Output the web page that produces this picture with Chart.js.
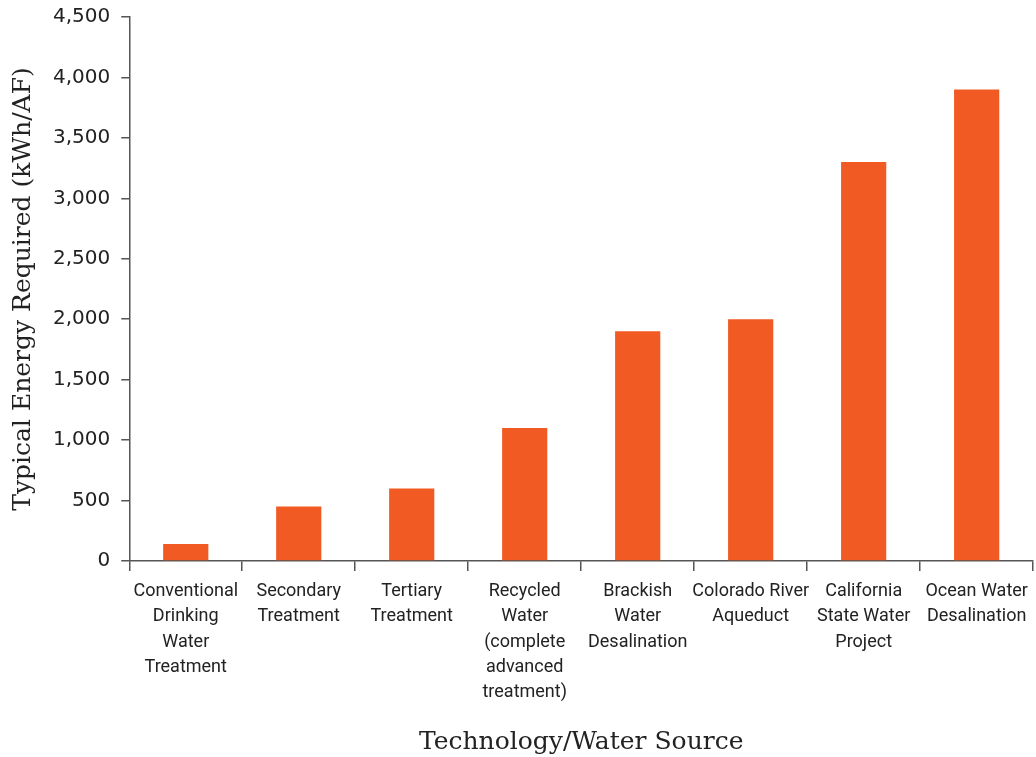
<!DOCTYPE html>
<html>
<head>
<meta charset="utf-8">
<script src="https://cdn.jsdelivr.net/npm/chart.js@4"></script>
<style>
  html, body { margin: 0; padding: 0; background: #fff; }
  #wrap { width: 1036px; height: 757px; }
</style>
</head>
<body>
<div id="wrap"><canvas id="myChart" width="1036" height="757"></canvas></div>
<script>
let categories = [
    ["Conventional", "Drinking", "Water", "Treatment"],
    ["Secondary", "Treatment"],
    ["Tertiary", "Treatment"],
    ["Recycled", "Water", "(complete", "advanced", "treatment)"],
    ["Brackish", "Water", "Desalination"],
    ["Colorado River", "Aqueduct"],
    ["California", "State Water", "Project"],
    ["Ocean Water", "Desalination"]
];
let energyValues = [140, 450, 600, 1100, 1900, 2000, 3300, 3900];
let yTicks = [0, 500, 1000, 1500, 2000, 2500, 3000, 3500, 4000, 4500];

let axisColor = "#555555";
let textColor = "#222222";

let energyChart = new Chart("myChart", {
    type: "bar",
    data: {
        labels: categories,
        datasets: [{
            backgroundColor: "#f15a22",
            data: energyValues,
            barPercentage: 0.4,
            categoryPercentage: 1.0
        }]
    },
    options: {
        responsive: false,
        animation: false,
        layout: { padding: { top: 17, right: 1, left: 8, bottom: 0 } },
        plugins: {
            legend: { display: false },
            tooltip: { enabled: false }
        },
        scales: {
            x: {
                grid: {
                    display: true,
                    drawOnChartArea: false,
                    tickLength: 10,
                    color: axisColor,
                    lineWidth: 1.5
                },
                border: { display: true, color: axisColor, width: 1.5 },
                ticks: {
                    color: textColor,
                    maxRotation: 0,
                    autoSkip: false,
                    padding: 8,
                    font: { family: "'Roboto', sans-serif", size: 18, lineHeight: 1.4 }
                },
                title: {
                    display: true,
                    text: "Technology/Water Source",
                    color: textColor,
                    padding: { top: 14, bottom: 0 },
                    font: { family: "'DejaVu Serif', serif", size: 25 }
                }
            },
            y: {
                min: 0,
                max: 4500,
                afterBuildTicks: function (axis) {
                    axis.ticks = yTicks.map(function (v) { return { value: v }; });
                },
                afterFit: function (axis) {
                    // let the layout padding decide the top of the plot
                    axis.paddingTop = 0;
                    axis.paddingBottom = 0;
                },
                grid: {
                    display: true,
                    drawOnChartArea: false,
                    tickLength: 8,
                    color: axisColor,
                    lineWidth: 1.5
                },
                border: { display: true, color: axisColor, width: 1.5 },
                ticks: {
                    color: textColor,
                    padding: 11,
                    font: { family: "'DejaVu Sans', sans-serif", size: 20 },
                    callback: function (value) {
                        return value.toLocaleString("en-US");
                    }
                },
                title: {
                    display: true,
                    text: "Typical Energy Required (kWh/AF)",
                    color: textColor,
                    padding: { top: 0, bottom: 4 },
                    font: { family: "'DejaVu Serif', serif", size: 25 }
                }
            }
        }
    }
});
</script>
</body>
</html>
